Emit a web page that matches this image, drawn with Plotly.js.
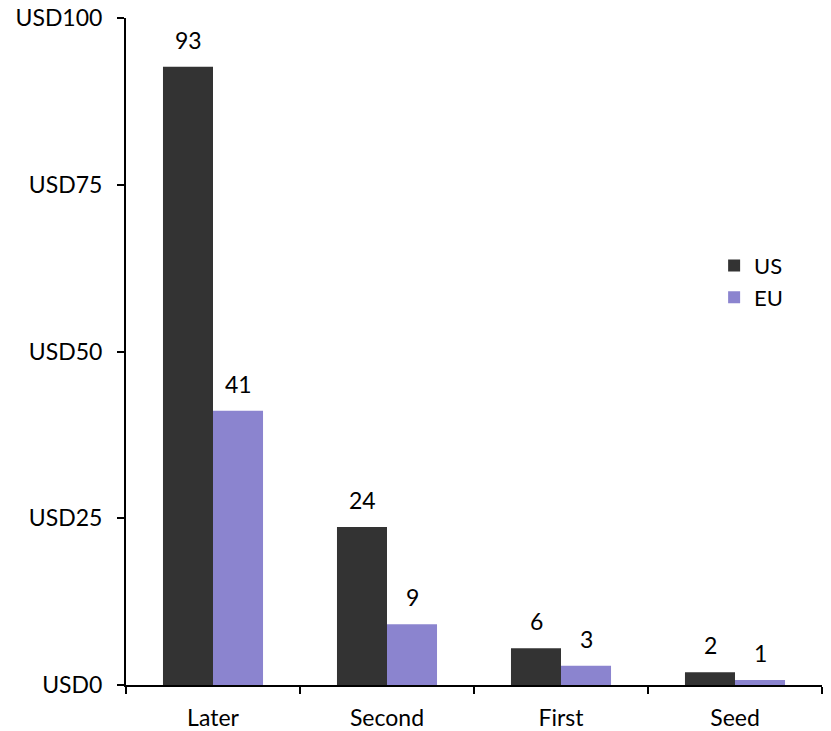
<!DOCTYPE html>
<html>
<head>
<meta charset="utf-8">
<script src="https://cdn.plot.ly/plotly-3.0.1.min.js"></script>
<style>html,body{margin:0;padding:0;background:#fff;}#chart{width:831px;height:731px;}</style>
</head>
<body>
<div id="chart"></div>
<script>
const categories = ["Later", "Second", "First", "Seed"];
const usValues = [92.7, 23.7, 5.5, 1.9];
const euValues = [41.1, 9.1, 2.9, 0.75];
const usLabels = ["93", "24", "6", "2"];
const euLabels = ["41", "9", "3", "1"];
const yTickVals = [0, 25, 50, 75, 100];
const yTickText = ["USD0", "USD25", "USD50", "USD75", "USD100"];

const FONT = "Lato, 'Open Sans', sans-serif";
const FS = 23;

const traces = [
  {
    type: "bar", name: "US", x: categories, y: usValues,
    marker: {color: "#333333"}, cliponaxis: false, hoverinfo: "skip"
  },
  {
    type: "bar", name: "EU", x: categories, y: euValues,
    marker: {color: "#8B84CF"}, cliponaxis: false, hoverinfo: "skip"
  }
];

// data labels placed above each bar, via the axes
const annotations = [];
categories.forEach((c, i) => {
  annotations.push({x: c, y: usValues[i], xref: "x", yref: "y", text: usLabels[i],
    showarrow: false, xshift: -25, yshift: 27, yanchor: "middle",
    font: {family: FONT, size: FS, color: "#000"}});
  annotations.push({x: c, y: euValues[i], xref: "x", yref: "y", text: euLabels[i],
    showarrow: false, xshift: 25, yshift: 27, yanchor: "middle",
    font: {family: FONT, size: FS, color: "#000"}});
});

const layout = {
  width: 831, height: 731,
  margin: {l: 126, r: 9, t: 18, b: 46},
  paper_bgcolor: "#fff", plot_bgcolor: "#fff",
  font: {family: FONT, size: FS, color: "#000"},
  barmode: "group", bargap: 0.425, bargroupgap: 0,
  showlegend: true,
  legend: {x: 0.845, y: 0.66, xanchor: "left", yanchor: "top", bgcolor: "rgba(0,0,0,0)",
           font: {family: FONT, size: FS - 1}, traceorder: "normal", itemwidth: 30, tracegroupgap: 0},
  annotations: annotations,
  xaxis: {
    type: "category", showline: true, linecolor: "#000", linewidth: 2,
    ticks: "outside", tickson: "boundaries", ticklen: 7, tickwidth: 2, tickcolor: "#000",
    showgrid: false, zeroline: false, fixedrange: true, ticklabelstandoff: 11
  },
  yaxis: {
    range: [0, 100], tickvals: yTickVals, ticktext: yTickText,
    showline: true, linecolor: "#000", linewidth: 2,
    ticks: "outside", ticklen: 7, tickwidth: 2, tickcolor: "#000",
    showgrid: false, zeroline: false, fixedrange: true, ticklabelstandoff: 10
  }
};

Plotly.newPlot("chart", traces, layout, {staticPlot: true, displayModeBar: false});
</script>
</body>
</html>
